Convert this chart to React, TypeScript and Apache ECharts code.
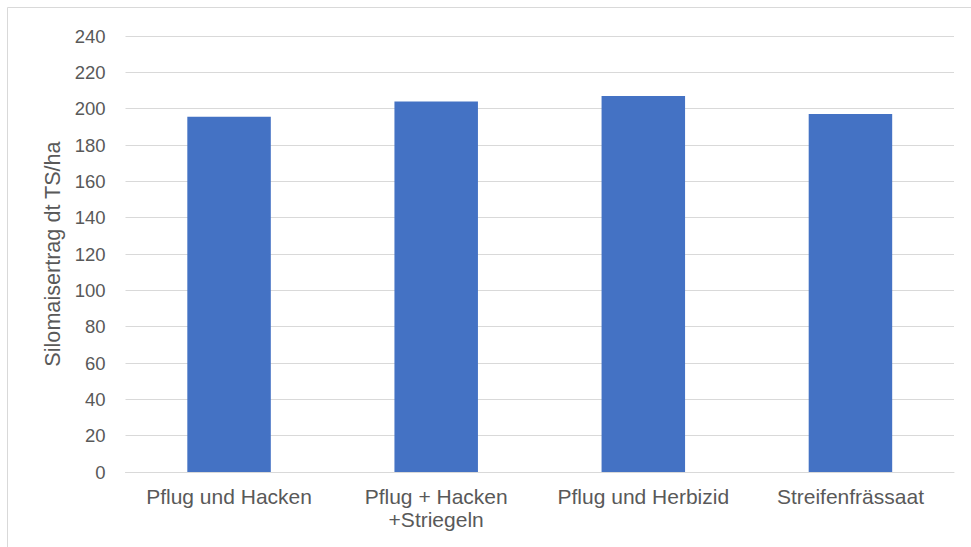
import React, { useEffect, useRef } from "react";
import * as echarts from "echarts";

// Silage maize dry-matter yield per tillage / weed-control variant
const categories = [
  "Pflug und Hacken",
  "Pflug + Hacken\n+Striegeln",
  "Pflug und Herbizid",
  "Streifenfrässaat",
];
const yieldValues = [195.5, 204, 207, 197];
const yAxisTitle = "Silomaisertrag dt TS/ha";
const yMin = 0;
const yMax = 240;
const yStep = 20;

const FONT = "'Liberation Sans', Arial, Helvetica, sans-serif";
const TEXT_COLOR = "#595959";
const GRID_COLOR = "#d9d9d9";
const BAR_COLOR = "#4472C4";

export default function App() {
  const ref = useRef<HTMLDivElement>(null);

  useEffect(() => {
    if (!ref.current) return;
    const chart = echarts.init(ref.current, undefined, { renderer: "svg" });
    chart.setOption({
      animation: false,
      backgroundColor: "#ffffff",
      textStyle: { fontFamily: FONT },
      graphic: [
        {
          type: "rect",
          shape: { x: 7.5, y: 7.5, width: 1000, height: 600 },
          style: { fill: "none", stroke: GRID_COLOR, lineWidth: 1 },
          silent: true,
        },
      ],
      grid: { left: 125.5, right: 17, top: 36, bottom: 75 },
      xAxis: {
        type: "category",
        data: categories,
        axisLine: { show: true, lineStyle: { color: GRID_COLOR, width: 1 } },
        axisTick: { show: false },
        axisLabel: {
          color: TEXT_COLOR,
          fontSize: 21,
          fontFamily: FONT,
          margin: 13,
          lineHeight: 23,
          interval: 0,
        },
      },
      yAxis: {
        type: "value",
        min: yMin,
        max: yMax,
        interval: yStep,
        name: yAxisTitle,
        nameLocation: "middle",
        nameGap: 61,
        nameRotate: 90,
        nameTextStyle: { color: TEXT_COLOR, fontSize: 21.6, fontFamily: FONT },
        axisLine: { show: false },
        axisTick: { show: false },
        axisLabel: {
          color: TEXT_COLOR,
          fontSize: 18.5,
          fontFamily: FONT,
          margin: 20,
        },
        splitLine: { lineStyle: { color: GRID_COLOR, width: 1 } },
      },
      series: [
        {
          type: "bar",
          data: yieldValues,
          barWidth: 83.5,
          itemStyle: { color: BAR_COLOR },
        },
      ],
    });
    return () => chart.dispose();
  }, []);

  return (
    <div
      ref={ref}
      style={{ position: "absolute", left: 0, top: 0, width: 971, height: 547 }}
    />
  );
}
